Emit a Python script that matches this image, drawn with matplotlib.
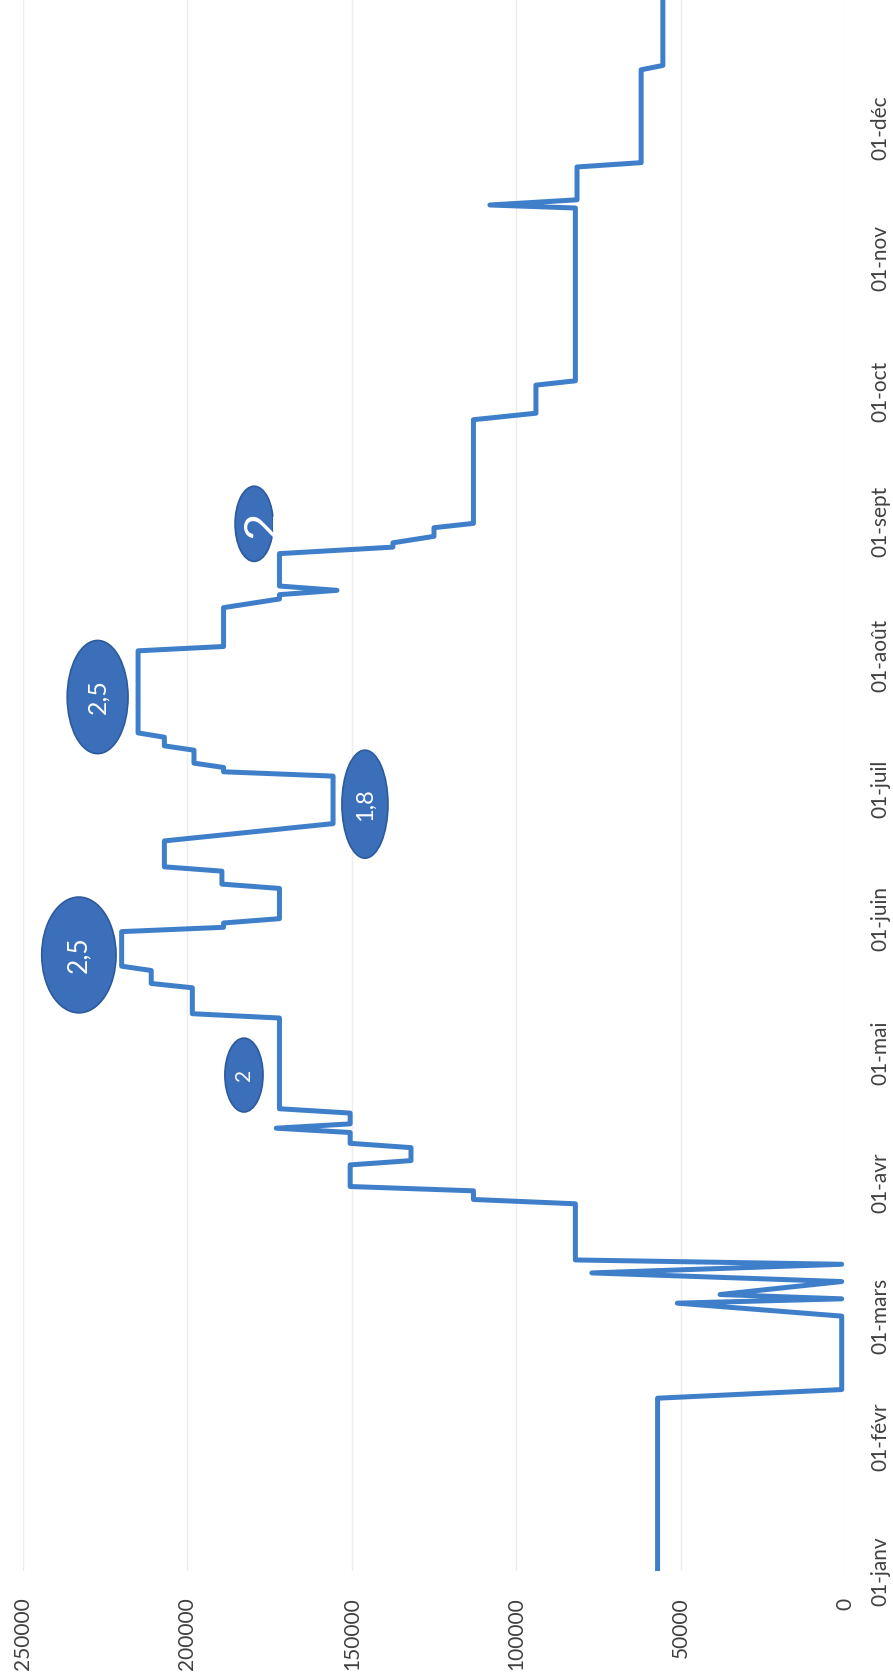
import matplotlib
matplotlib.use("Agg")
import matplotlib.pyplot as plt
from matplotlib.patches import Ellipse
from matplotlib.ticker import FixedLocator

plt.rcParams["font.family"] = ["Lato", "DejaVu Sans"]

# Daily stock level (day of year, 0 = 1 January) - corners of the curve
day = [0, 40, 42, 59, 62, 63, 64, 67, 69, 71, 72, 85, 86, 88, 89, 94, 95, 98, 99,
       101.5, 102.5, 103.5, 106, 107, 128, 129, 135, 136, 139, 140, 148, 149, 150,
       151, 158, 159, 162, 163, 169, 173, 184, 185, 186, 187, 190, 191, 193, 194,
       213, 214, 223, 225, 226, 227, 228, 235.5, 237, 238, 239.5, 241.5, 242.5,
       266.5, 268, 274.5, 275.5, 315.5, 316.2, 317.4, 325, 326, 347.5, 348.5, 364]
stock = [57000, 57000, 1000, 1000, 51000, 1000, 38000, 1000, 77000, 1000, 82000,
         82000, 113000, 113000, 150500, 150500, 132000, 132000, 150500, 150500,
         173000, 150500, 150500, 172000, 172000, 198500, 198500, 211000, 211000,
         220000, 220000, 189000, 189000, 172000, 172000, 189500, 189500, 207000,
         207000, 155700, 155700, 189000, 189000, 198000, 198000, 207000, 207000,
         215000, 215000, 189000, 189000, 172000, 172000, 154500, 172000, 172000,
         137500, 137500, 125000, 125000, 113000, 113000, 94000, 94000, 82000,
         82000, 108000, 81500, 81500, 62000, 62000, 55400, 55400]

month_start = [0, 31, 59, 90, 120, 151, 181, 212, 243, 273, 304, 334]
month_label = ["01-janv", "01-févr", "01-mars", "01-avr", "01-mai", "01-juin",
               "01-juil", "01-août", "01-sept", "01-oct", "01-nov", "01-déc"]
value_ticks = [250000, 200000, 150000, 100000, 50000, 0]

# Handwritten-style callouts: label, day, stock level
note_label = ["2", "2,5", "1,8", "2,5", "2"]
note_day = [114.8, 142.6, 177.5, 202.3, 242.4]
note_value = [182800, 233000, 146000, 227300, 179700]
note_w = [11600, 22600, 14000, 18500, 11600]
note_h = [17.1, 26.8, 25.0, 26.2, 17.4]
note_size = [15, 19, 17, 18, 34]
note_shift = [0, 0, 0, 0, -2600]   # text offset inside the bubble (stock units)

LINE = "#3f7fca"
FILL = "#3b6fba"
EDGE = "#2d5a9c"
TEXT = "#404040"

fig = plt.figure(figsize=(8.93, 16.8), dpi=100)
ax = fig.add_axes([23 / 893, 0.06488, 822 / 893, 0.93602])

ax.plot(stock, day, color=LINE, lw=3.6, solid_joinstyle="round",
        solid_capstyle="round", zorder=3)

ax.set_xlim(250000, 0)
ax.set_ylim(0, 364)

ax.xaxis.set_major_locator(FixedLocator(value_ticks))
ax.set_xticklabels([str(v) for v in value_ticks])
ax.yaxis.set_major_locator(FixedLocator(month_start))
ax.set_yticklabels(month_label)
ax.yaxis.tick_right()

ax.tick_params(axis="x", length=0, pad=19, labelsize=15, labelcolor=TEXT,
               labelrotation=90)
ax.tick_params(axis="y", length=0, pad=18, labelsize=15, labelcolor=TEXT,
               labelrotation=90, labelright=True, labelleft=False)
for lbl in ax.get_yticklabels():
    lbl.set_verticalalignment("center")

ax.grid(axis="x", color="#ededed", lw=1.0)
ax.grid(axis="y", visible=False)
for s in ax.spines.values():
    s.set_visible(False)

for lab, d, v, w, h, fs, dv in zip(note_label, note_day, note_value, note_w,
                                   note_h, note_size, note_shift):
    e = Ellipse((v, d), w, h, facecolor=FILL, edgecolor=EDGE, lw=1.2, zorder=4)
    ax.add_patch(e)
    t = ax.text(v + dv, d, lab, color="white", fontsize=fs, rotation=90,
                ha="center", va="center", zorder=5)
    t.set_clip_path(e)

fig.savefig("out.png", dpi=100, facecolor="white")
